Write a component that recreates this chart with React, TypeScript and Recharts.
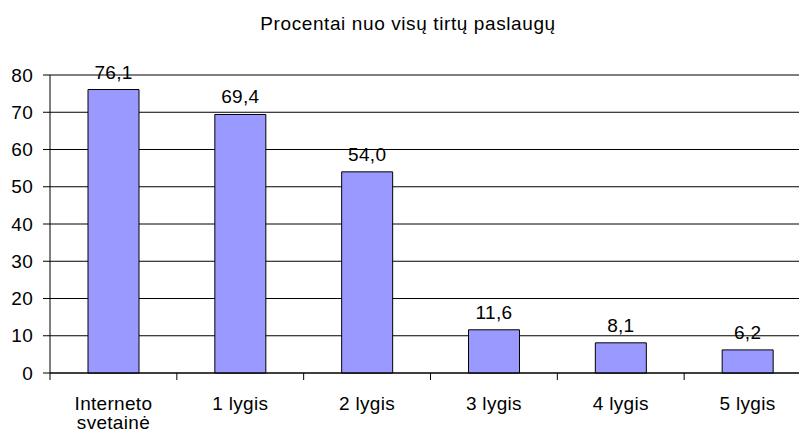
import { BarChart, Bar, XAxis, YAxis, CartesianGrid, LabelList } from "recharts";

const categories = ["Interneto\nsvetainė", "1 lygis", "2 lygis", "3 lygis", "4 lygis", "5 lygis"];
const values = [76.1, 69.4, 54.0, 11.6, 8.1, 6.2];
const yTicks = [0, 10, 20, 30, 40, 50, 60, 70, 80];
const title = "Procentai nuo visų tirtų paslaugų";

const data = categories.map((name, i) => ({ name, value: values[i] }));

const FONT = "'Liberation Sans', Arial, sans-serif";

function CategoryTick(props: any) {
  const { x, y, payload, width, index } = props;
  const band = width / categories.length;
  const lines = String(payload.value).split("\n");
  return (
    <g>
      <line x1={x - band / 2} x2={x - band / 2} y1={y} y2={y + 7} stroke="#000" />
      {index === categories.length - 1 && (
        <line x1={x + band / 2} x2={x + band / 2} y1={y} y2={y + 7} stroke="#000" />
      )}
      {lines.map((l, i) => (
        <text
          key={i}
          x={x}
          y={y + 37 + i * 19}
          textAnchor="middle"
          fontSize={19}
          letterSpacing={0.3}
          fill="#000"
          fontFamily={FONT}
        >
          {l}
        </text>
      ))}
    </g>
  );
}

export default function App() {
  return (
    <div
      style={{
        position: "absolute",
        left: 0,
        top: 0,
        width: 799,
        height: 435,
        overflow: "hidden",
        background: "#fff",
        fontFamily: FONT,
      }}
    >
      <div
        style={{
          position: "absolute",
          left: 0,
          width: 816,
          top: 13,
          textAlign: "center",
          fontSize: 19,
          letterSpacing: 0.6,
          color: "#000",
        }}
      >
        {title}
      </div>
      <BarChart
        width={830}
        height={435}
        data={data}
        margin={{ top: 75, right: 19, bottom: 0, left: 0 }}
      >
        <CartesianGrid horizontal vertical={false} stroke="#000" />
        <XAxis
          dataKey="name"
          height={62}
          interval={0}
          tickLine={false}
          tickSize={0}
          tickMargin={0}
          axisLine={{ stroke: "#000" }}
          tick={<CategoryTick />}
        />
        <YAxis
          width={50}
          domain={[0, 80]}
          ticks={yTicks}
          interval={0}
          tickSize={7}
          tickMargin={10}
          axisLine={{ stroke: "#000" }}
          tickLine={{ stroke: "#000" }}
          tick={{ fill: "#000", fontSize: 19, fontFamily: FONT, letterSpacing: 0.3 }}
        />
        <Bar
          dataKey="value"
          fill="#9999FF"
          stroke="#000"
          strokeWidth={1}
          barSize={51}
          isAnimationActive={false}
        >
          <LabelList
            dataKey="value"
            position="top"
            offset={11}
            fill="#000"
            fontSize={19}
            fontFamily={FONT}
            letterSpacing={0.3}
            formatter={(v: any) => Number(v).toFixed(1).replace(".", ",")}
          />
        </Bar>
      </BarChart>
    </div>
  );
}
